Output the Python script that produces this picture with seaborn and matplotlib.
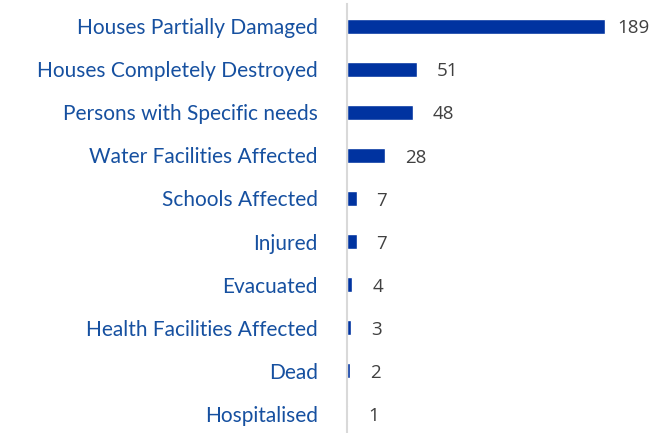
import matplotlib
matplotlib.use("Agg")
import matplotlib.pyplot as plt
import seaborn as sns
import pandas as pd

categories = [
    "Houses Partially Damaged",
    "Houses Completely Destroyed",
    "Persons with Specific needs",
    "Water Facilities Affected",
    "Schools Affected",
    "Injured",
    "Evacuated",
    "Health Facilities Affected",
    "Dead",
    "Hospitalised",
]
values = [189, 51, 48, 28, 7, 7, 4, 3, 2, 1]

df = pd.DataFrame({"category": categories, "value": values})

sns.set_theme(style="white")
plt.rcParams["font.family"] = ["Lato", "DejaVu Sans"]

fig = plt.figure(figsize=(6.53, 4.33), dpi=100)
ax = fig.add_axes([347 / 653, -2.5 / 433, 306 / 653, 431 / 433])

sns.barplot(data=df, x="value", y="category", color="#0033A0",
            width=0.35, saturation=1, ax=ax)

# value labels; the longest bar gets a tighter gap so it stays inside
for i, v in enumerate(values):
    gap = 8.8 if v == max(values) else 14.6
    ax.text(v + gap, i + 0.05, str(v), va="center", ha="left",
            fontsize=13.5, color="#404040", family=["Open Sans", "DejaVu Sans"])

ax.set_xlim(0, 224)
ax.set_xlabel("")
ax.set_ylabel("")
ax.set_xticks([])
ax.tick_params(axis="y", length=0, pad=21, labelsize=15, labelcolor="#1650A0")
for s in ["top", "right", "bottom"]:
    ax.spines[s].set_visible(False)
ax.spines["left"].set_color("#D9D9D9")
ax.spines["left"].set_linewidth(1.5)

fig.savefig("out.png", dpi=100, facecolor="white")
